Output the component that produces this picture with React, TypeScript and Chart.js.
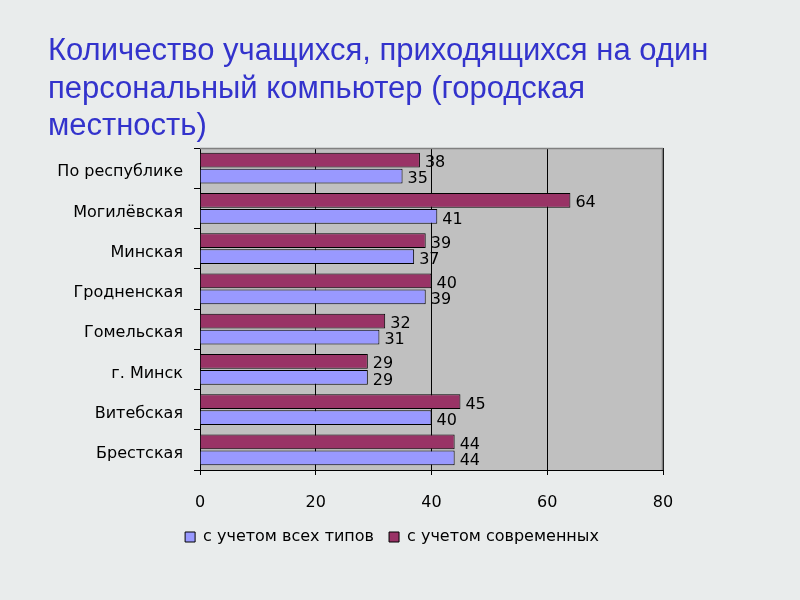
import React, { useEffect, useRef } from "react";
import { Chart, registerables } from "chart.js";

Chart.register(...registerables);

const categories = [
  "По республике",
  "Могилёвская",
  "Минская",
  "Гродненская",
  "Гомельская",
  "г. Минск",
  "Витебская",
  "Брестская",
];
const modernValues = [38, 64, 39, 40, 32, 29, 45, 44];
const allTypesValues = [35, 41, 37, 39, 31, 29, 40, 44];
const xTicks = [0, 20, 40, 60, 80];
const titleLines = [
  "Количество учащихся, приходящихся на один",
  "персональный компьютер (городская",
  "местность)",
];
const seriesNames = ["с учетом современных", "с учетом всех типов"];

const TITLE_FONT = "'Liberation Sans', Arial, sans-serif";
const FONT = "'DejaVu Sans', 'Liberation Sans', sans-serif";

const plotBgPlugin = {
  id: "plotBg",
  afterLayout(chart: any) {
    const lg = chart.legend;
    const a = chart.chartArea;
    if (lg) {
      const w = lg.right - lg.left;
      const target = (121 + a.right) / 2;
      lg.left = target - w / 2;
      lg.right = target + w / 2;
    }
  },
  beforeDraw(chart: any) {
    const { ctx, chartArea: a } = chart;
    ctx.save();
    ctx.fillStyle = "#c0c0c0";
    ctx.fillRect(a.left, a.top, a.right - a.left, a.bottom - a.top);
    ctx.restore();
  },
  afterDatasetsDraw(chart: any) {
    const { ctx, chartArea: a } = chart;
    ctx.save();
    ctx.strokeStyle = "#808080";
    ctx.lineWidth = 1.5;
    ctx.beginPath();
    ctx.moveTo(a.left, a.top + 0.5);
    ctx.lineTo(a.right - 0.5, a.top + 0.5);
    ctx.lineTo(a.right - 0.5, a.bottom);
    ctx.stroke();
    ctx.restore();
  },
};

const valueLabelPlugin = {
  id: "valueLabels",
  afterDatasetsDraw(chart: any) {
    const { ctx } = chart;
    ctx.save();
    ctx.font = `16px ${FONT}`;
    ctx.fillStyle = "#000";
    ctx.textAlign = "left";
    ctx.textBaseline = "middle";
    chart.data.datasets.forEach((ds: any, di: number) => {
      const meta = chart.getDatasetMeta(di);
      meta.data.forEach((el: any, i: number) => {
        ctx.fillText(String(ds.data[i]), el.x + 5, el.y + 3);
      });
    });
    ctx.restore();
  },
};

export default function App() {
  const ref = useRef<HTMLCanvasElement | null>(null);

  useEffect(() => {
    if (!ref.current) return;
    const chart = new Chart(ref.current, {
      type: "bar",
      data: {
        labels: categories,
        datasets: [
          {
            label: seriesNames[0],
            data: modernValues,
            backgroundColor: "#993366",
            borderColor: "#000",
            borderWidth: 1,
            categoryPercentage: 0.8,
            barPercentage: 0.92,
          },
          {
            label: seriesNames[1],
            data: allTypesValues,
            backgroundColor: "#9999ff",
            borderColor: "#000",
            borderWidth: 1,
            categoryPercentage: 0.8,
            barPercentage: 0.92,
          },
        ],
      },
      options: {
        indexAxis: "y",
        animation: false,
        responsive: false,
        maintainAspectRatio: false,
        layout: { padding: { left: 0, right: 137, top: 148, bottom: 45 } },
        scales: {
          x: {
            min: 0,
            max: 80,
            afterBuildTicks: (s: any) => {
              s.ticks = xTicks.map((v) => ({ value: v }));
            },
            afterFit: (s: any) => {
              s.height = 44;
            },
            ticks: {
              color: "#000",
              font: { family: FONT, size: 16 },
              padding: 18,
            },
            grid: {
              color: "#000",
              lineWidth: 1,
              tickLength: 5,
              drawTicks: true,
            },
            border: { color: "#000", width: 1 },
          },
          y: {
            afterFit: (s: any) => {
              s.width = 200;
            },
            ticks: {
              color: "#000",
              font: { family: FONT, size: 16 },
              padding: 11,
              labelOffset: 4,
            },
            grid: {
              offset: true,
              drawOnChartArea: false,
              drawTicks: true,
              tickLength: 6,
              color: "#000",
            },
            border: { color: "#000", width: 1 },
          },
        },
        plugins: {
          legend: {
            position: "bottom",
            labels: {
              boxWidth: 10,
              boxHeight: 10,
              padding: 15,
              color: "#000",
              font: { family: FONT, size: 16 },
              sort: (a: any, b: any) => b.datasetIndex - a.datasetIndex,
            },
          },
          title: { display: false },
          tooltip: { enabled: false },
        },
      },
      plugins: [plotBgPlugin, valueLabelPlugin],
    });
    return () => chart.destroy();
  }, []);

  return (
    <div
      style={{
        position: "absolute",
        left: 0,
        top: 0,
        width: 800,
        height: 600,
        background: "#e9ecec",
        overflow: "hidden",
      }}
    >
      <canvas
        ref={ref}
        width={800}
        height={600}
        style={{ position: "absolute", left: 0, top: 0, width: 800, height: 600 }}
      />
      <div
        style={{
          position: "absolute",
          left: 48,
          top: 31,
          fontFamily: TITLE_FONT,
          fontSize: 31,
          lineHeight: "37.5px",
          color: "#3333cc",
          whiteSpace: "nowrap",
        }}
      >
        {titleLines.map((t, i) => (
          <div key={i}>{t}</div>
        ))}
      </div>
    </div>
  );
}
